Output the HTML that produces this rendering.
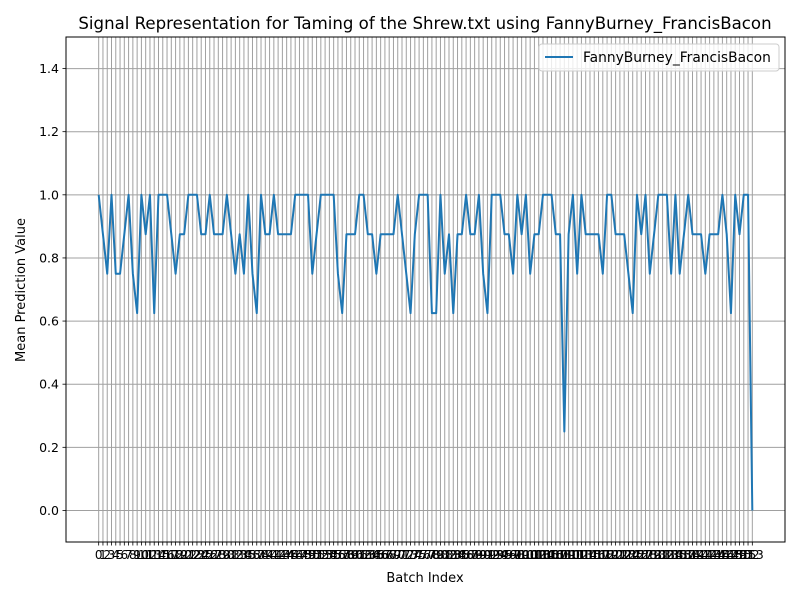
<!DOCTYPE html>
<html><head><meta charset="utf-8"><style>
body{margin:0;background:#fff}
svg text{font-family:"DejaVu Sans","Liberation Sans",sans-serif;fill:#000}
</style></head><body>
<svg id="chart" width="800" height="600" viewBox="0 0 800 600" xmlns="http://www.w3.org/2000/svg">
<rect width="800" height="600" fill="#fff"/>
<text x="425" y="29" font-size="16.6" text-anchor="middle">Signal Representation for Taming of the Shrew.txt using FannyBurney_FrancisBacon</text>
<g id="grid"></g>
<g id="yticks"></g>
<g id="xticks"></g>
<path id="line" fill="none" stroke="#1f77b4" stroke-width="2" stroke-linejoin="round"/>
<rect x="66" y="37" width="719" height="505" fill="none" stroke="#000" stroke-width="1"/>
<text x="425" y="582" font-size="13" text-anchor="middle">Batch Index</text>
<text x="25" y="290" font-size="13" text-anchor="middle" transform="rotate(-90 25 290)">Mean Prediction Value</text>
<g>
<rect x="539" y="44" width="240" height="27" rx="3" fill="#fff" fill-opacity="0.8" stroke="#ccc"/>
<line x1="545" y1="57" x2="573" y2="57" stroke="#1f77b4" stroke-width="2"/>
<text x="583" y="62" font-size="13.8">FannyBurney_FrancisBacon</text>
</g>
</svg>
<script>
const values = [1,.875,.75,1,.75,.75,.875,1,.75,.625,
1,.875,1,.625,1,1,1,.875,.75,.875,
.875,1,1,1,.875,.875,1,.875,.875,.875,
1,.875,.75,.875,.75,1,.75,.625,1,.875,
.875,1,.875,.875,.875,.875,1,1,1,1,
.75,.875,1,1,1,1,.75,.625,.875,.875,
.875,1,1,.875,.875,.75,.875,.875,.875,.875,
1,.875,.75,.625,.875,1,1,1,.625,.625,
1,.75,.875,.625,.875,.875,1,.875,.875,1,
.75,.625,1,1,1,.875,.875,.75,1,.875,
1,.75,.875,.875,1,1,1,.875,.875,.25,
.875,1,.75,1,.875,.875,.875,.875,.75,1,
1,.875,.875,.875,.75,.625,1,.875,1,.75,
.875,1,1,1,.75,1,.75,.875,1,.875,
.875,.875,.75,.875,.875,.875,1,.875,.625,1,
.875,1,1,0];
const yTicks = [0,0.2,0.4,0.6,0.8,1.0,1.2,1.4];
const NS="http://www.w3.org/2000/svg";
const L=66,R=785,T=37,B=542;
const n=values.length;
const xmin=-(n-1)*0.05, xmax=(n-1)*1.05;
const ymin=-0.1, ymax=1.5;
const X=i=>L+(i-xmin)/(xmax-xmin)*(R-L);
const Y=v=>B-(v-ymin)/(ymax-ymin)*(B-T);
const grid=document.getElementById('grid'),yt=document.getElementById('yticks'),xt=document.getElementById('xticks');
function mk(tag,attrs,parent){const e=document.createElementNS(NS,tag);for(const k in attrs)e.setAttribute(k,attrs[k]);parent.appendChild(e);return e;}
for(let i=0;i<n;i++){
  const x=X(i);
  const g=mk('line',{x1:x,x2:x,y1:T,y2:B,stroke:'#a0a0a0','stroke-width':1},grid);
  
  
  mk('line',{x1:x,x2:x,y1:B,y2:B+3.5,stroke:'#000','stroke-width':0.8},xt);
  const t=mk('text',{x:x,y:B+17,'font-size':12,'text-anchor':'middle'},xt);
  t.textContent=String(i);
  
  
}
yTicks.forEach(v=>{
  const y=Y(v);
  const g=mk('line',{x1:L,x2:R,y1:y,y2:y,stroke:'#a0a0a0','stroke-width':1},grid);
  
  
  mk('line',{x1:L-3.5,x2:L,y1:y,y2:y,stroke:'#000','stroke-width':0.8},yt);
  const t=mk('text',{x:L-7,y:y+4.5,'font-size':12.5,'text-anchor':'end'},yt);
  t.textContent=v.toFixed(1);
  
  
});
document.getElementById('line').setAttribute('d',values.map((v,i)=>(i?'L':'M')+X(i).toFixed(2)+','+Y(v).toFixed(2)).join(''));
</script>
</body></html>
